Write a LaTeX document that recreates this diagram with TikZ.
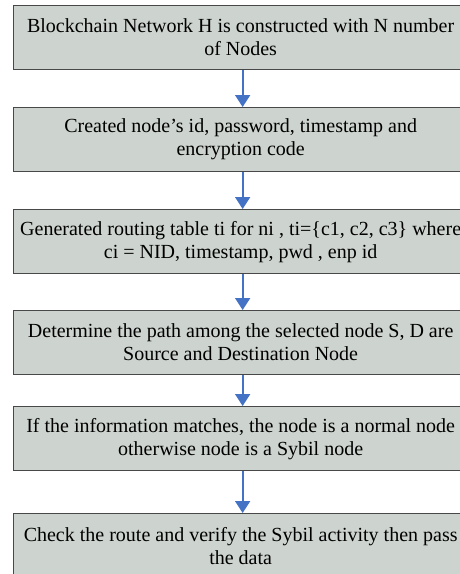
\documentclass[tikz,border=0pt]{standalone}
\usepackage{fontspec}
\setmainfont{Liberation Serif}
\usetikzlibrary{arrows.meta}
\definecolor{boxfill}{RGB}{205,211,206}
\definecolor{boxline}{RGB}{72,72,72}
\definecolor{flowblue}{RGB}{68,114,196}
\begin{document}
\begin{tikzpicture}[x=1pt,y=-1pt,
  stepbox/.style={draw=boxline, line width=1.3pt, fill=boxfill,
    minimum width=454pt, minimum height=64pt, inner sep=0pt,
    align=center, anchor=north west, font=\fontsize{20}{23}\selectfont},
  flow/.style={draw=flowblue, line width=1.8pt,
    -{Triangle[width=15pt,length=12pt]}}]
\useasboundingbox (0,0) rectangle (460,574);

\node[stepbox] (b1) at (13,5)   {Blockchain Network H is constructed with N number\\of Nodes};
\node[stepbox] (b2) at (13,107) {Created node’s id, password, timestamp and\\encryption code};
\node[stepbox] (b3) at (13,209) {Generated routing table ti for ni , ti=\{c1, c2, c3\} where\\ci = NID, timestamp, pwd , enp id};
\node[stepbox] (b4) at (13,310) {Determine the path among the selected node S, D are\\Source and Destination Node};
\node[stepbox] (b5) at (13,406) {If the information matches, the node is a normal node\\otherwise node is a Sybil node};
\node[stepbox] (b6) at (13,513) {Check the route and verify the Sybil activity then pass\\the data};

\foreach \a/\b in {b1/b2, b2/b3, b3/b4, b4/b5, b5/b6}
  \draw[flow] ([xshift=2pt]\a.south) -- ([xshift=2pt]\b.north);
\end{tikzpicture}
\end{document}
